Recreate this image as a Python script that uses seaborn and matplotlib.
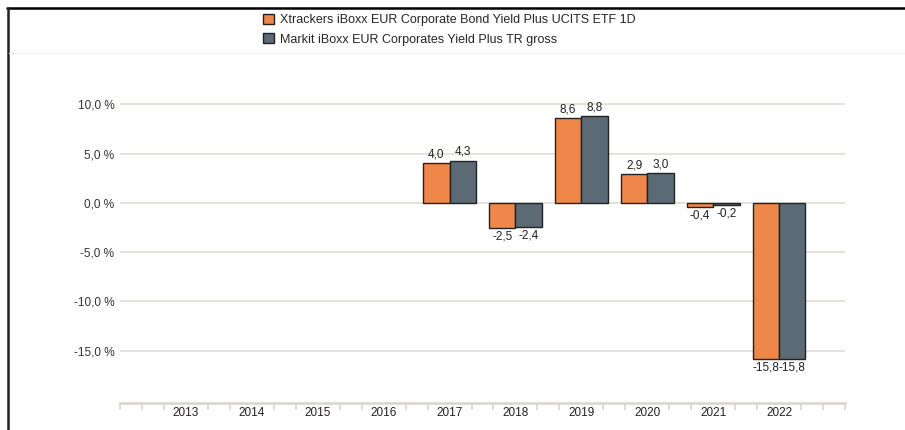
import numpy as np
import pandas as pd
import matplotlib
matplotlib.use("Agg")
import matplotlib.pyplot as plt
from matplotlib.patches import Patch
from matplotlib.lines import Line2D
import seaborn as sns

# datos
anios = ["2013", "2014", "2015", "2016", "2017", "2018", "2019", "2020", "2021", "2022"]
etf = [np.nan, np.nan, np.nan, np.nan, 4.0, -2.5, 8.6, 2.9, -0.4, -15.8]
indice = [np.nan, np.nan, np.nan, np.nan, 4.3, -2.4, 8.8, 3.0, -0.2, -15.8]
series = ["Xtrackers iBoxx EUR Corporate Bond Yield Plus UCITS ETF 1D",
          "Markit iBoxx EUR Corporates Yield Plus TR gross"]
colores = ["#EF864A", "#5B6A75"]
yticks = [-15, -10, -5, 0, 5, 10]

df = pd.DataFrame({
    "anio": anios * 2,
    "valor": etf + indice,
    "serie": [series[0]] * len(anios) + [series[1]] * len(anios),
})

sns.set_style("white")
plt.rcParams["font.family"] = ["Liberation Sans", "DejaVu Sans"]

fig = plt.figure(figsize=(9.05, 4.30), dpi=100)
ax = fig.add_axes([120 / 905, 27 / 430, 725 / 905, 343 / 430])

sns.barplot(data=df, x="anio", y="valor", hue="serie", order=anios,
            hue_order=series, palette=colores, saturation=1, width=0.8,
            errorbar=None, edgecolor="#222222", linewidth=1, legend=False, ax=ax)

for cont in ax.containers:
    etiquetas = []
    for b in cont:
        h = b.get_height()
        etiquetas.append("" if np.isnan(h) else f"{h:.1f}".replace(".", ","))
    ax.bar_label(cont, labels=etiquetas, padding=2, fontsize=8.5, color="#222222")

ax.set_xlim(-1, 10)
ax.set_ylim(-20.3, 14.5)
ax.set_xlabel("")
ax.set_ylabel("")

ax.set_yticks(yticks)
ax.set_yticklabels([f"{v:.1f} %".replace(".", ",") for v in yticks], fontsize=8.5, color="#333333")
ax.tick_params(axis="y", length=0, pad=4)
ax.grid(axis="y", color="#E2DFD8", linewidth=1.3)
ax.set_axisbelow(True)

ax.set_xticks(range(len(anios)))
ax.set_xticklabels(anios, fontsize=8.5, color="#222222")
ax.tick_params(axis="x", which="major", length=0, pad=3)
menores = [p for p in np.arange(-1, 10.01, 1 / 3) if abs(p - round(p)) > 0.01 or p < 0 or p > 9.5]
ax.set_xticks(menores, minor=True)
ax.tick_params(axis="x", which="minor", bottom=True, length=5, color="#D9D5CC", width=1.2)

for s in ["top", "right", "left"]:
    ax.spines[s].set_visible(False)
ax.spines["bottom"].set_color("#D9D5CC")
ax.spines["bottom"].set_linewidth(1.8)

# leyenda
handles = [Patch(facecolor=c, edgecolor="#222222", linewidth=1) for c in colores]
fig.legend(handles, series, loc="upper left", bbox_to_anchor=(258 / 905, 1 - 9 / 430),
           frameon=False, fontsize=9, handlelength=0.85, handleheight=0.85,
           handletextpad=0.5, labelspacing=0.55, borderaxespad=0)

# bordes
fig.add_artist(Line2D([7 / 905, 1], [1 - 8 / 430] * 2, color="black", linewidth=1.8))
fig.add_artist(Line2D([8 / 905] * 2, [0, 1 - 8 / 430], color="#222222", linewidth=1.8))
fig.add_artist(Line2D([9 / 905, 1], [1 - 53 / 430] * 2, color="#F0F0F0", linewidth=1))

fig.savefig("out.png", dpi=100)
